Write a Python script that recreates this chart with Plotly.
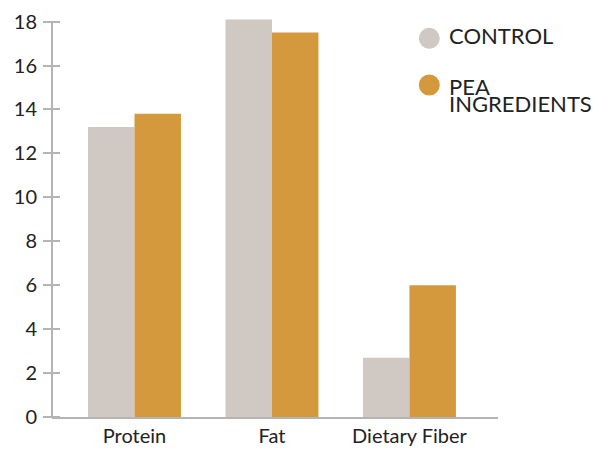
import plotly.graph_objects as go

categories = ["Protein", "Fat", "Dietary Fiber"]
control = [13.2, 18.1, 2.7]
pea = [13.8, 17.5, 6.0]
series_names = ["CONTROL", "PEA INGREDIENTS"]
legend_lines = [["CONTROL"], ["PEA", "INGREDIENTS"]]
y_ticks = [0, 2, 4, 6, 8, 10, 12, 14, 16, 18]

C_CONTROL = "#d0c8c3"
C_PEA = "#d4993c"
AXIS = "#b4b4b4"
TXT = "#222222"
FONT = "Lato"

W, H = 598, 449
ML, MR, MB, MT = 52, 100, 32, 15
pw = W - ML - MR
ph = H - MT - MB

fig = go.Figure()
fig.add_trace(go.Bar(x=categories, y=control, name=series_names[0],
                     marker=dict(color=C_CONTROL, line=dict(width=0)),
                     cliponaxis=False))
fig.add_trace(go.Bar(x=categories, y=pea, name=series_names[1],
                     marker=dict(color=C_PEA, line=dict(width=0)),
                     cliponaxis=False))

yr = [0, 18.3]
fig.update_layout(
    width=W, height=H,
    margin=dict(l=ML, r=MR, b=MB, t=MT, pad=0),
    paper_bgcolor="white", plot_bgcolor="white",
    barmode="group", bargap=0.324, bargroupgap=0,
    showlegend=False,
    font=dict(family=FONT, size=20, color=TXT),
    xaxis=dict(range=[-0.6, 2.644], showgrid=False, zeroline=False,
               showline=True, linecolor=AXIS, linewidth=2, ticks="",
               automargin=False,
               tickfont=dict(family=FONT, size=20, color=TXT)),
    # ticks cross the axis line: axis placed 8px inside, outside ticks 17px long
    yaxis=dict(range=yr, tickvals=y_ticks, showgrid=False, zeroline=False,
               anchor="free", position=8 / pw,
               showline=False, ticks="outside", ticklen=17, tickwidth=2,
               automargin=False, ticklabelstandoff=2,
               tickcolor=AXIS, tickfont=dict(family=FONT, size=20, color=TXT)),
)

# y axis line from 0 up to the top tick
fig.add_shape(type="line", xref="paper", yref="y", x0=0, x1=0,
              y0=y_ticks[0], y1=y_ticks[-1], line=dict(color=AXIS, width=2))

# custom legend
def px_to_paper(xp, yp):
    return (xp - ML) / pw, (H - MB - yp) / ph

legend_rows = [(38.3, [35.0]), (85.0, [86.0, 103.3])]
colors = [C_CONTROL, C_PEA]
for (cy, text_ys), col, lines in zip(legend_rows, colors, legend_lines):
    cx_p, cy_p = px_to_paper(429.3, cy)
    fig.add_shape(type="circle", xref="paper", yref="paper",
                  xsizemode="pixel", ysizemode="pixel",
                  xanchor=cx_p, yanchor=cy_p,
                  x0=-10.5, x1=10.5, y0=-10.5, y1=10.5,
                  fillcolor=col, line=dict(width=0))
    for ty, line in zip(text_ys, lines):
        tx_p, ty_p = px_to_paper(446.5, ty)
        fig.add_annotation(xref="paper", yref="paper", x=tx_p, y=ty_p,
                           xanchor="left", yanchor="middle", showarrow=False,
                           text=line, font=dict(family=FONT, size=22, color=TXT))

fig.write_html("out.html")
